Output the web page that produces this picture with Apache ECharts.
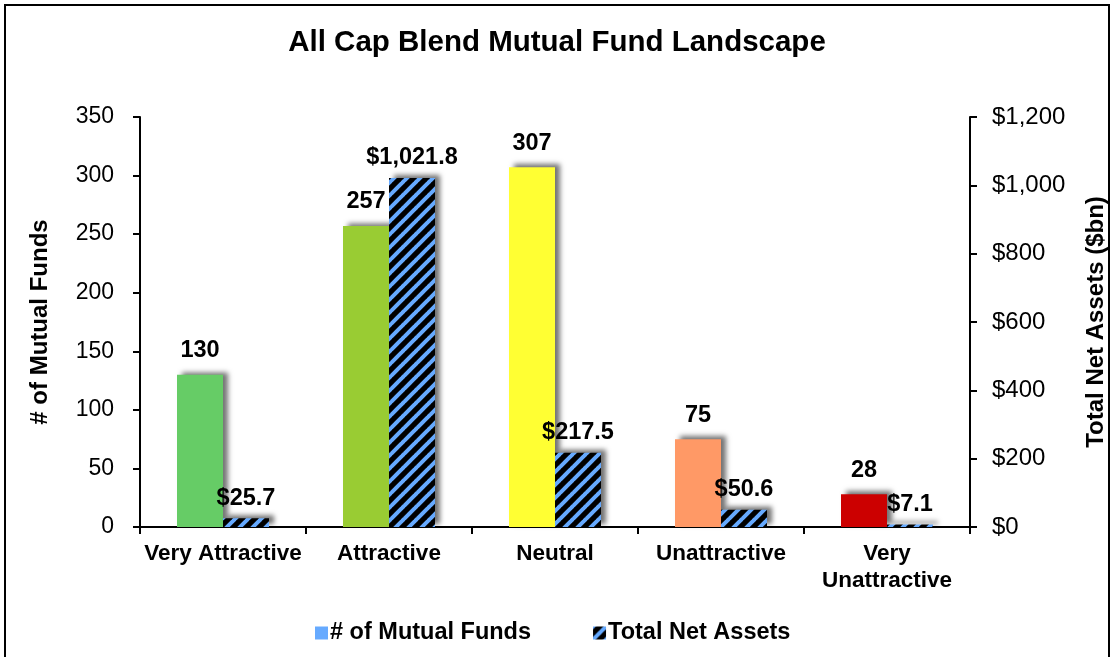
<!DOCTYPE html>
<html>
<head>
<meta charset="utf-8">
<script src="https://cdn.jsdelivr.net/npm/echarts@6/dist/echarts.min.js"></script>
<style>
  html, body { margin: 0; padding: 0; background: #fff; }
  #chart { width: 1114px; height: 657px; }
</style>
</head>
<body>
<div id="chart"></div>
<script>
// data
const categories = ["Very Attractive", "Attractive", "Neutral", "Unattractive", "Very Unattractive"];
const fundCounts = [130, 257, 307, 75, 28];
const netAssets = [25.7, 1021.8, 217.5, 50.6, 7.1];
const fundColors = ["#66CC66", "#99CC33", "#FFFF33", "#FF9966", "#CC0000"];
const leftTicks = { min: 0, max: 350, interval: 50 };
const rightTicks = { min: 0, max: 1200, interval: 200 };

const FONT = "'Liberation Sans', Arial, sans-serif";

// black with blue diagonal stripes
const makeHatch = () => {
  const size = 13;
  const c = document.createElement("canvas");
  c.width = size;
  c.height = size;
  const ctx = c.getContext("2d");
  ctx.fillStyle = "#000";
  ctx.fillRect(0, 0, size, size);
  ctx.strokeStyle = "#66AAFF";
  ctx.lineWidth = 4;
  for (let k = -1; k <= 1; k++) {
    ctx.beginPath();
    ctx.moveTo(k * size - 1, size + 1);
    ctx.lineTo(k * size + size + 1, -1);
    ctx.stroke();
  }
  return c;
};

const shadow = {
  shadowColor: "rgba(0,0,0,0.55)",
  shadowBlur: 5,
  shadowOffsetX: 5,
  shadowOffsetY: -3,
};

const chart = echarts.init(document.getElementById("chart"));

chart.setOption({
  animation: false,
  backgroundColor: "#fff",
  textStyle: { fontFamily: FONT },
  graphic: [
    {
      type: "rect",
      shape: { x: 5, y: 5, width: 1104, height: 670 },
      style: { fill: "none", stroke: "#000", lineWidth: 2 },
      silent: true,
    },
  ],
  title: {
    text: "All Cap Blend Mutual Fund Landscape",
    left: "center",
    top: 23,
    textStyle: { fontFamily: FONT, fontSize: 29.5, fontWeight: "bold", color: "#000" },
  },
  legend: {
    bottom: 7,
    left: 310,
    itemGap: 62,
    itemWidth: 13,
    itemHeight: 13,
    textStyle: { fontFamily: FONT, fontSize: 23.5, fontWeight: "bold", color: "#000", padding: [0, 0, 0, -3] },
    data: [
      { name: "# of Mutual Funds", icon: "rect" },
      { name: "Total Net Assets", icon: "rect" },
    ],
  },
  grid: {
    left: 140,
    right: 144,
    top: 117,
    bottom: 130,
    outerBoundsMode: "none",
  },
  xAxis: {
    type: "category",
    data: categories,
    axisLine: { lineStyle: { color: "#000", width: 2 } },
    axisTick: { show: true, length: 7, lineStyle: { color: "#000", width: 2 } },
    axisLabel: {
      interval: 0,
      color: "#000",
      fontFamily: FONT,
      fontSize: 22.5,
      fontWeight: "bold",
      margin: 13,
      lineHeight: 27,
      formatter: (v) => (v === "Very Unattractive" ? "Very\nUnattractive" : v),
    },
  },
  yAxis: [
    {
      type: "value",
      min: leftTicks.min,
      max: leftTicks.max,
      interval: leftTicks.interval,
      name: "# of Mutual Funds",
      nameLocation: "middle",
      nameRotate: 90,
      nameGap: 88,
      nameTextStyle: { fontFamily: FONT, fontSize: 24, fontWeight: "bold", color: "#000" },
      splitLine: { show: false },
      axisLine: { show: true, lineStyle: { color: "#000", width: 2 } },
      axisTick: { show: true, length: 7, lineStyle: { color: "#000", width: 2 } },
      axisLabel: { color: "#000", fontFamily: FONT, fontSize: 23, margin: 26 },
    },
    {
      type: "value",
      position: "right",
      min: rightTicks.min,
      max: rightTicks.max,
      interval: rightTicks.interval,
      name: "Total Net Assets ($bn)",
      nameLocation: "middle",
      nameRotate: 90,
      nameGap: 114,
      nameTextStyle: { fontFamily: FONT, fontSize: 24, fontWeight: "bold", color: "#000" },
      splitLine: { show: false },
      axisLine: { show: true, lineStyle: { color: "#000", width: 2 } },
      axisTick: { show: true, length: 7, lineStyle: { color: "#000", width: 2 } },
      axisLabel: {
        color: "#000",
        fontFamily: FONT,
        fontSize: 24,
        margin: 22,
        formatter: (v) => "$" + v.toLocaleString("en-US"),
      },
    },
  ],
  series: [
    {
      name: "# of Mutual Funds",
      type: "bar",
      yAxisIndex: 0,
      barWidth: 46,
      barGap: "0%",
      itemStyle: { color: "#66AAFF", ...shadow },
      data: fundCounts.map((v, i) => ({ value: v, itemStyle: { color: fundColors[i] } })),
      label: {
        show: true,
        position: "top",
        distance: 12,
        color: "#000",
        fontFamily: FONT,
        fontSize: 23.5,
        fontWeight: "bold",
      },
    },
    {
      name: "Total Net Assets",
      type: "bar",
      yAxisIndex: 1,
      barWidth: 46,
      barGap: "0%",
      itemStyle: { color: { image: makeHatch(), repeat: "repeat" }, ...shadow },
      data: netAssets,
      label: {
        show: true,
        position: "top",
        distance: 8,
        color: "#000",
        fontFamily: FONT,
        fontSize: 23.5,
        fontWeight: "bold",
        formatter: (p) =>
          "$" + p.value.toLocaleString("en-US", { minimumFractionDigits: 1, maximumFractionDigits: 1 }),
      },
    },
  ],
});
</script>
</body>
</html>
